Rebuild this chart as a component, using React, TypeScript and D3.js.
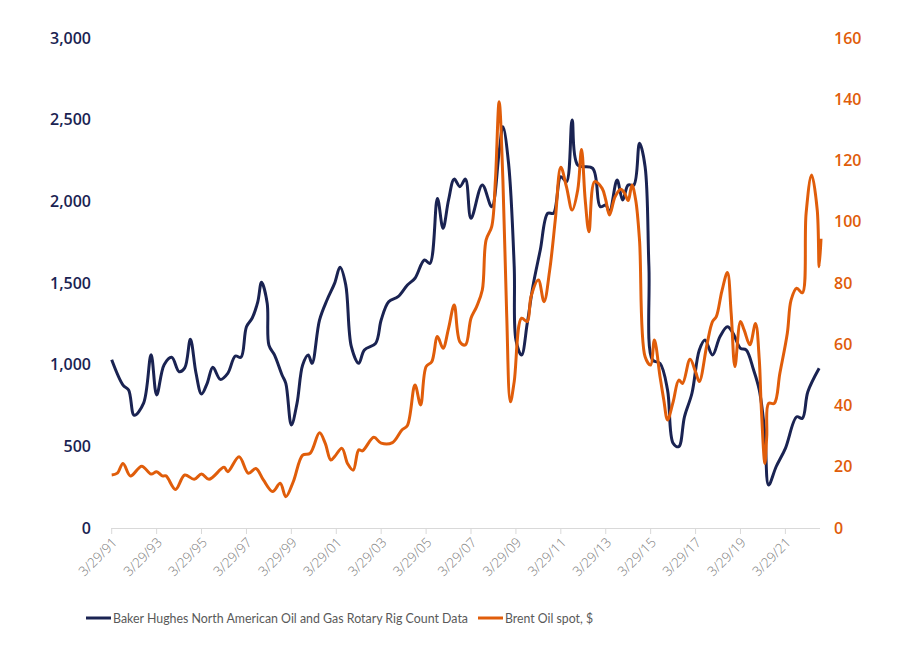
import React from "react";
import * as d3 from "d3";

// Baker Hughes North American rig count
const rigDates = [
  "1991-03","1991-09","1991-12","1992-03","1992-08","1992-12","1993-03","1993-07","1993-11","1994-03",
  "1994-06","1994-09","1994-12","1995-03","1995-06","1995-09","1996-01","1996-05","1996-09","1996-12",
  "1997-03","1997-06","1997-09","1997-11","1998-02","1998-03","1998-06","1998-10","1998-12","1999-03",
  "1999-06","1999-09","1999-12","2000-02","2000-06","2000-10","2001-02","2001-05","2001-08","2001-11",
  "2002-03","2002-06","2002-12","2003-03","2003-07","2003-12","2004-05","2004-09","2005-02","2005-05",
  "2005-09","2005-12","2006-03","2006-06","2006-09","2006-12","2007-03","2007-09","2008-02","2008-06",
  "2008-08","2008-11","2009-02","2009-03","2009-06","2009-09","2009-12","2010-04","2010-08","2010-11",
  "2011-03","2011-06","2011-09","2011-12","2012-08","2012-12","2013-03","2013-05","2013-09","2013-12",
  "2014-03","2014-06","2014-09","2014-12","2015-02","2015-04","2015-08","2015-12","2016-03","2016-06",
  "2016-09","2017-01","2017-05","2017-08","2017-12","2018-04","2018-08","2018-11","2019-03","2019-06",
  "2019-10","2020-01","2020-04","2020-06","2020-10","2021-03","2021-09","2021-12","2022-03","2022-09"
];
const rigValues = [
  1030,875,845,690,765,1060,815,1000,1045,957,
  980,1155,949,820,886,984,910,947,1053,1045,
  1232,1284,1385,1504,1376,1120,1059,937,886,631,
  763,998,1059,1008,1273,1396,1498,1596,1490,1110,
  1008,1090,1131,1273,1385,1416,1488,1529,1641,1620,
  2018,1835,2008,2136,2090,2136,1896,2100,1967,2304,
  2457,2233,1600,1151,1059,1253,1477,1702,1927,1927,
  2151,2120,2498,2222,2202,1967,1977,1936,2130,2008,
  2100,2100,2355,2212,1600,1029,1008,845,519,498,
  681,825,1090,1151,1059,1171,1232,1192,1100,1090,
  967,845,580,263,375,488,681,671,834,978
];

// Brent oil spot, $
const brentDates = [
  "1991-03","1991-06","1991-09","1992-01","1992-07","1992-12","1993-03","1993-06","1993-08","1994-01",
  "1994-06","1994-11","1995-03","1995-07","1996-03","1996-05","1996-11","1997-04","1997-08","1997-12",
  "1998-05","1998-09","1998-12","1999-04","1999-09","2000-01","2000-06","2000-09","2000-12","2001-02",
  "2001-06","2001-09","2001-12","2002-03","2002-05","2002-11","2003-03","2003-09","2004-02","2004-05",
  "2004-09","2004-12","2005-03","2005-06","2005-09","2005-12","2006-03","2006-06","2006-09","2006-12",
  "2007-03","2007-06","2007-09","2007-11","2008-02","2008-04","2008-06","2008-08","2008-10","2008-12",
  "2009-02","2009-06","2009-09","2009-11","2010-03","2010-06","2010-09","2010-12","2011-03","2011-06",
  "2011-09","2011-12","2012-02","2012-04","2012-06","2012-09","2013-01","2013-03","2013-05","2013-08",
  "2013-11","2014-01","2014-03","2014-05","2014-07","2014-09","2014-12","2015-03","2015-05","2015-08",
  "2015-10","2015-12","2016-03","2016-06","2016-08","2016-12","2017-03","2017-05","2017-09","2017-12",
  "2018-02","2018-05","2018-08","2018-10","2018-12","2019-03","2019-05","2019-08","2019-11","2020-01",
  "2020-02","2020-04","2020-05","2020-06","2020-09","2020-12","2021-04","2021-06","2021-09","2021-12",
  "2022-02","2022-05","2022-08","2022-09","2022-10"
];
const brentValues = [
  17.3,17.9,21.1,17.0,20.2,17.6,18.4,17.0,17.0,12.6,
  17.3,15.9,17.6,15.9,19.8,18.4,23.3,17.9,19.4,15.7,
  11.9,14.6,10.2,15.1,23.8,24.4,31.1,27.7,22.2,23.3,
  26.0,21.0,18.9,25.5,25.2,29.6,27.7,27.9,32.0,33.5,
  46.7,40.2,52.7,54.3,62.5,58.7,65.2,72.8,60.8,59.8,
  68.5,72.3,77.7,94.0,98.4,113.6,139.2,113.6,70.1,41.2,
  47.8,68.5,67.4,75.5,81.0,73.9,84.2,100.6,117.8,111.4,
  103.8,110.4,123.6,107.1,96.7,113.1,110.9,107.1,102.2,108.2,
  110.6,109.3,106.9,112.0,107.1,94.0,55.9,53.2,61.4,49.4,
  41.8,35.3,41.2,48.3,47.2,55.1,51.0,47.8,59.8,67.4,
  69.0,77.2,83.4,70.1,52.7,67.4,64.6,59.8,66.8,55.0,
  40.0,21.1,29.8,40.7,40.7,50.5,63.6,74.4,78.3,76.8,
  102.8,115.3,103.8,85.3,94.5
];

const leftTicks = [0, 500, 1000, 1500, 2000, 2500, 3000];
const rightTicks = [0, 20, 40, 60, 80, 100, 120, 140, 160];
const seriesNames = [
  "Baker Hughes North American Oil and Gas Rotary Rig Count Data",
  "Brent Oil spot, $",
];

const NAVY = "#1a2352";
const ORANGE = "#e05d0a";
const FONT = "'Open Sans', 'Noto Sans', sans-serif";

const parseMonth = (s: string) => {
  const [y, m] = s.split("-").map(Number);
  return new Date(y, m - 1, 29);
};

export default function App() {
  const W = 900, H = 652;
  const x0 = 111.7, x1 = 821, yTop = 38, yBot = 528;

  const x = d3.scaleTime()
    .domain([new Date(1991, 2, 29), new Date(2022, 9, 29)])
    .range([x0, x1]);
  const yL = d3.scaleLinear().domain([0, 3000]).range([yBot, yTop]);
  const yR = d3.scaleLinear().domain([0, 160]).range([yBot, yTop]);

  const rig = rigDates.map((d, i) => ({ d: parseMonth(d), v: rigValues[i] }));
  const brent = brentDates.map((d, i) => ({ d: parseMonth(d), v: brentValues[i] }));

  const rigLine = d3.line<{ d: Date; v: number }>()
    .x(p => x(p.d)).y(p => yL(p.v)).curve(d3.curveCatmullRom.alpha(0.5));
  const brentLine = d3.line<{ d: Date; v: number }>()
    .x(p => x(p.d)).y(p => yR(p.v)).curve(d3.curveCatmullRom.alpha(0.5));

  const xTicks = d3.range(1991, 2022, 2).map(yr => new Date(yr, 2, 29));
  const fmt = d3.timeFormat("%-m/%d/%y");
  const fmtL = d3.format(",");

  return (
    <svg width={W} height={H} style={{ position: "absolute", left: 0, top: 0, background: "#fff" }}
      fontFamily={FONT}>
      {/* x axis */}
      <line x1={x0 - 0.5} x2={820} y1={yBot + 0.5} y2={yBot + 0.5} stroke="#d9d9d9" strokeWidth={1} />
      {xTicks.map((t, i) => (
        <g key={i}>
          <line x1={x(t)} x2={x(t)} y1={yBot} y2={yBot + 6} stroke="#d9d9d9" strokeWidth={1} />
          <text transform={`translate(${x(t) + 3},${yBot + 12}) rotate(-45)`} textAnchor="end"
            fontSize={13.5} fill="#7f7f7f" dy="0.35em" fontWeight={300}>{fmt(t)}</text>
        </g>
      ))}
      {/* left axis labels */}
      {leftTicks.map(t => (
        <text key={t} x={91} y={yL(t)} dy="0.35em" textAnchor="end" fontSize={16}
          fontWeight={600} fill={NAVY}>{fmtL(t)}</text>
      ))}
      {/* right axis labels */}
      {rightTicks.map(t => (
        <text key={t} x={834} y={yR(t)} dy="0.35em" textAnchor="start" fontSize={16}
          fontWeight={600} fill={ORANGE}>{t}</text>
      ))}
      {/* lines */}
      <path d={rigLine(rig) || ""} fill="none" stroke={NAVY} strokeWidth={3} strokeLinejoin="round" />
      <path d={brentLine(brent) || ""} fill="none" stroke={ORANGE} strokeWidth={3} strokeLinejoin="round" />
      {/* legend */}
      <line x1={86} x2={111} y1={618} y2={618} stroke={NAVY} strokeWidth={3} />
      <text x={113} y={618} dy="0.35em" fontSize={13.5} fill="#595959" fontFamily="Lato, sans-serif"
        textLength={355} lengthAdjust="spacingAndGlyphs">{seriesNames[0]}</text>
      <line x1={478} x2={503} y1={618} y2={618} stroke={ORANGE} strokeWidth={3} />
      <text x={505} y={618} dy="0.35em" fontSize={13.5} fill="#595959" fontFamily="Lato, sans-serif"
        textLength={88} lengthAdjust="spacingAndGlyphs">{seriesNames[1]}</text>
    </svg>
  );
}
